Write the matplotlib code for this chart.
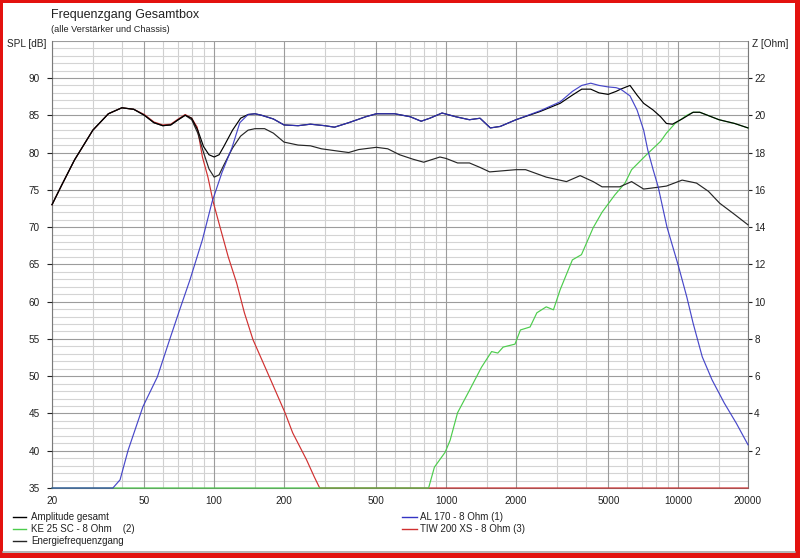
import numpy as np
import matplotlib
matplotlib.use("Agg")
import matplotlib.pyplot as plt
from matplotlib.lines import Line2D
from matplotlib.patches import Rectangle

plt.rcParams['font.family'] = ['Liberation Sans', 'DejaVu Sans']

# ---------------- data ----------------
amp_f = [20, 22, 25, 30, 35, 40, 45, 50, 55, 60, 65, 70, 75, 80, 85, 90, 95, 100, 105, 110,
         120, 130, 140, 150, 160, 180, 200, 230, 260, 300, 330, 380, 450, 500, 600, 700, 780,
         850, 960, 1100, 1260, 1400, 1550, 1710, 2000, 2540, 3100, 3500, 3840, 4200, 4560,
         4990, 5400, 5650, 6200, 6650, 7100, 7800, 8400, 8900, 9450, 10400, 11600, 12400,
         15000, 17500, 20000]
amp_db = [73.0, 75.6, 79.0, 83.0, 85.2, 86.0, 85.8, 85.0, 84.0, 83.6, 83.7, 84.4, 85.0, 84.6,
          83.0, 80.8, 79.7, 79.4, 79.7, 80.8, 83.0, 84.6, 85.1, 85.2, 85.0, 84.5, 83.7, 83.6,
          83.8, 83.6, 83.4, 84.0, 84.8, 85.2, 85.2, 84.8, 84.2, 84.6, 85.3, 84.8, 84.4, 84.6,
          83.3, 83.5, 84.4, 85.5, 86.6, 87.7, 88.5, 88.5, 88.0, 87.8, 88.2, 88.5, 89.0, 87.7,
          86.6, 85.7, 84.8, 83.9, 83.8, 84.5, 85.4, 85.4, 84.4, 83.9, 83.3]

energ_f = [20, 22, 25, 30, 35, 40, 45, 50, 55, 60, 65, 70, 75, 80, 85, 90, 95, 100, 105, 110,
           120, 130, 140, 150, 165, 180, 200, 230, 260, 290, 340, 380, 420, 500, 560, 630, 720,
           800, 940, 1000, 1120, 1260, 1400, 1540, 2000, 2200, 2700, 3300, 3780, 4300, 4700,
           5600, 6300, 7100, 8000, 8900, 10400, 12000, 13500, 15100, 17500, 20000]
energ_db = [73.0, 75.6, 79.0, 83.0, 85.2, 86.0, 85.8, 85.0, 84.0, 83.6, 83.7, 84.4, 85.0, 84.4,
            82.6, 80.0, 77.8, 76.7, 77.0, 78.3, 80.6, 82.2, 83.0, 83.2, 83.2, 82.6, 81.4, 81.0,
            80.9, 80.5, 80.2, 80.0, 80.4, 80.7, 80.5, 79.7, 79.1, 78.7, 79.4, 79.2, 78.6, 78.6,
            78.0, 77.4, 77.7, 77.7, 76.7, 76.1, 76.9, 76.1, 75.4, 75.4, 76.1, 75.1, 75.3, 75.5,
            76.3, 75.9, 74.8, 73.2, 71.7, 70.3]

al170_f = [20, 36.6, 39.3, 42.6, 49.3, 56.9, 64.6, 71, 78.6, 89, 98, 108, 119.5, 129, 140,
           150, 160, 180, 200, 230, 260, 300, 330, 380, 450, 500, 600, 700, 780, 850, 960, 1100,
           1260, 1400, 1550, 1710, 2000, 2540, 3100, 3500, 3840, 4200, 4560, 4990, 5400, 5650,
           6200, 6650, 7100, 7400, 7800, 8200, 8950, 10000, 10900, 11600, 12700, 14000, 15800,
           17800, 20000]
al170_db = [35.0, 35.0, 36.1, 40.1, 45.9, 49.9, 55.1, 58.9, 62.9, 68.3, 73.4, 77.3, 80.7, 84.0,
            85.1, 85.2, 85.0, 84.5, 83.7, 83.6, 83.8, 83.6, 83.4, 84.0, 84.8, 85.2, 85.2, 84.8,
            84.2, 84.6, 85.3, 84.8, 84.4, 84.6, 83.3, 83.5, 84.4, 85.6, 86.8, 88.2, 89.0, 89.3,
            89.0, 88.8, 88.7, 88.5, 87.6, 85.7, 83.0, 80.3, 77.7, 75.4, 70.0, 64.9, 60.6, 57.1,
            52.6, 49.5, 46.4, 43.7, 40.8]

ke25_f = [20, 840, 890, 990, 1040, 1120, 1260, 1420, 1570, 1670, 1760, 1980, 2090, 2300, 2460,
          2700, 2900, 3100, 3500, 3830, 4300, 4700, 5330, 5900, 6300, 7300, 8400, 8900, 9700,
          10900, 11600, 12400, 15000, 17500, 20000]
ke25_db = [35.0, 35.0, 37.8, 39.8, 41.4, 45.1, 48.1, 51.2, 53.3, 53.1, 53.9, 54.3, 56.2, 56.6,
           58.5, 59.3, 58.9, 61.6, 65.6, 66.3, 69.9, 72.0, 74.3, 75.9, 77.7, 79.7, 81.5, 82.6,
           83.9, 85.0, 85.4, 85.4, 84.4, 83.9, 83.3]

tiw_f = [20, 22, 25, 30, 35, 40, 45, 50, 55, 60, 65, 70, 75, 80, 84.5, 89, 94, 99, 106, 115,
         125, 135, 147, 160, 173, 202, 218, 250, 270, 285, 20000]
tiw_db = [73.0, 75.6, 79.0, 83.0, 85.2, 86.0, 85.8, 85.1, 84.1, 83.7, 83.8, 84.5, 85.1, 84.6,
          83.4, 79.4, 76.7, 73.4, 70.0, 66.0, 62.5, 58.5, 54.9, 52.3, 49.9, 45.1, 42.4, 38.8,
          36.5, 35.0, 35.0]

xticks = [20, 50, 100, 200, 500, 1000, 2000, 5000, 10000, 20000]
xminor = [30, 40, 60, 70, 80, 90, 150, 300, 400, 600, 700, 800, 900, 1500, 3000, 4000,
          6000, 7000, 8000, 9000, 15000]
yticks = [35, 40, 45, 50, 55, 60, 65, 70, 75, 80, 85, 90]
zticks = [2, 4, 6, 8, 10, 12, 14, 16, 18, 20, 22]

title = "Frequenzgang Gesamtbox"
subtitle = "(alle Verstärker und Chassis)"
legend_left = ["Amplitude gesamt", "KE 25 SC - 8 Ohm    (2)", "Energiefrequenzgang"]
legend_right = ["AL 170 - 8 Ohm (1)", "TIW 200 XS - 8 Ohm (3)"]

# ---------------- figure ----------------
W, H = 800, 558
fig = plt.figure(figsize=(W / 100, H / 100), dpi=100)
fig.patch.set_facecolor("white")

def px(x, y):
    return x / W, 1 - y / H

x0, y0 = px(52, 488)
x1, y1 = px(748, 40.7)
ax = fig.add_axes([x0, y0, x1 - x0, y1 - y0])
ax.set_xscale("log")
ax.set_xlim(20, 20000)
ax.set_ylim(35, 95)

c_black = "#000000"
c_energ = "#262626"
c_blue = "#3434c4"
c_green = "#4ccc4c"
c_red = "#d03030"

# grid
for f in xminor:
    ax.axvline(f, color="#d0d0d0", lw=0.8, zorder=0)
for f in xticks:
    ax.axvline(f, color="#9c9c9c", lw=0.8, zorder=0.5)
for d in range(36, 95):
    if d % 5:
        ax.axhline(d, color="#d4d4d4", lw=0.8, zorder=0)
for d in range(40, 96, 5):
    ax.axhline(d, color="#9c9c9c", lw=0.8, zorder=0.5)

lw = 0.85
ax.plot(tiw_f, tiw_db, color=c_red, lw=lw, zorder=2, clip_on=False)
ax.plot(ke25_f, ke25_db, color=c_green, lw=lw, zorder=3, clip_on=False)
ax.plot(energ_f, energ_db, color=c_energ, lw=lw, zorder=4, clip_on=False)
ax.plot(amp_f, amp_db, color=c_black, lw=lw, zorder=5, clip_on=False)
ax.plot(al170_f, al170_db, color=c_blue, lw=lw, zorder=6, alpha=0.9, clip_on=False)

ax.spines["top"].set_visible(False)
for s in ["left", "right", "bottom"]:
    ax.spines[s].set_color("#7a7a7a")
    ax.spines[s].set_linewidth(0.8)
    ax.spines[s].set_zorder(1)

ax.set_xticks(xticks)
ax.set_xticklabels([str(t) for t in xticks])
ax.xaxis.set_minor_locator(matplotlib.ticker.NullLocator())
ax.tick_params(axis="x", length=0, pad=6, labelsize=7.2, colors="#222222")
ax.set_yticks(yticks)
ax.set_yticklabels([str(t) for t in yticks])
ax.yaxis.set_minor_locator(matplotlib.ticker.NullLocator())
ax.tick_params(axis="y", length=3.6, width=0.8, pad=5, labelsize=7.2, colors="#222222")

ax2 = ax.twinx()
ax2.set_ylim(0, 24)
ax2.set_yticks(zticks)
ax2.set_yticklabels([str(t) for t in zticks])
ax2.tick_params(axis="y", length=3.0, width=0.8, pad=1.5, labelsize=7.2, colors="#222222")
for s in ax2.spines.values():
    s.set_visible(False)
ax2.set_zorder(-1)

# texts
fig.text(*px(51, 15), title, fontsize=9.0, color="#222222", va="center", ha="left")
fig.text(*px(51, 29), subtitle, fontsize=6.6, color="#222222", va="center", ha="left")
fig.text(*px(46, 44), "SPL [dB]", fontsize=7.2, color="#222222", va="center", ha="right")
fig.text(*px(752, 44), "Z [Ohm]", fontsize=7.2, color="#222222", va="center", ha="left")

# legend
rows = [517, 529, 541]
lcols = [c_black, c_green, c_energ]
for r, lab, c in zip(rows, legend_left, lcols):
    xa, ya = px(13, r)
    xb, _ = px(26, r)
    fig.add_artist(Line2D([xa, xb], [ya, ya], color=c, lw=1.0, transform=fig.transFigure))
    fig.text(*px(31, r), lab, fontsize=7.0, color="#222222", va="center", ha="left")
rcols = [c_blue, c_red]
for r, lab, c in zip(rows[:2], legend_right, rcols):
    xa, ya = px(402, r)
    xb, _ = px(417, r)
    fig.add_artist(Line2D([xa, xb], [ya, ya], color=c, lw=1.0, transform=fig.transFigure))
    fig.text(*px(420, r), lab, fontsize=7.0, color="#222222", va="center", ha="left")

# window frame
gx0, gy = px(3, 552)
gx1, _ = px(795, 552)
fig.add_artist(Line2D([gx0, gx1], [gy, gy], color="#a8a8a8", lw=1.2, transform=fig.transFigure))
red = "#e3120f"
def rect(xa, ya, xb, yb):
    (ax_, ay_), (bx_, by_) = px(xa, yb), px(xb, ya)
    fig.add_artist(Rectangle((ax_, ay_), bx_ - ax_, by_ - ay_, color=red, lw=0,
                             transform=fig.transFigure))
rect(0, 0, 800, 3)
rect(0, 0, 3, 558)
rect(795, 0, 800, 558)
rect(0, 553, 800, 558)

fig.savefig("out.png", dpi=100, facecolor="white")
